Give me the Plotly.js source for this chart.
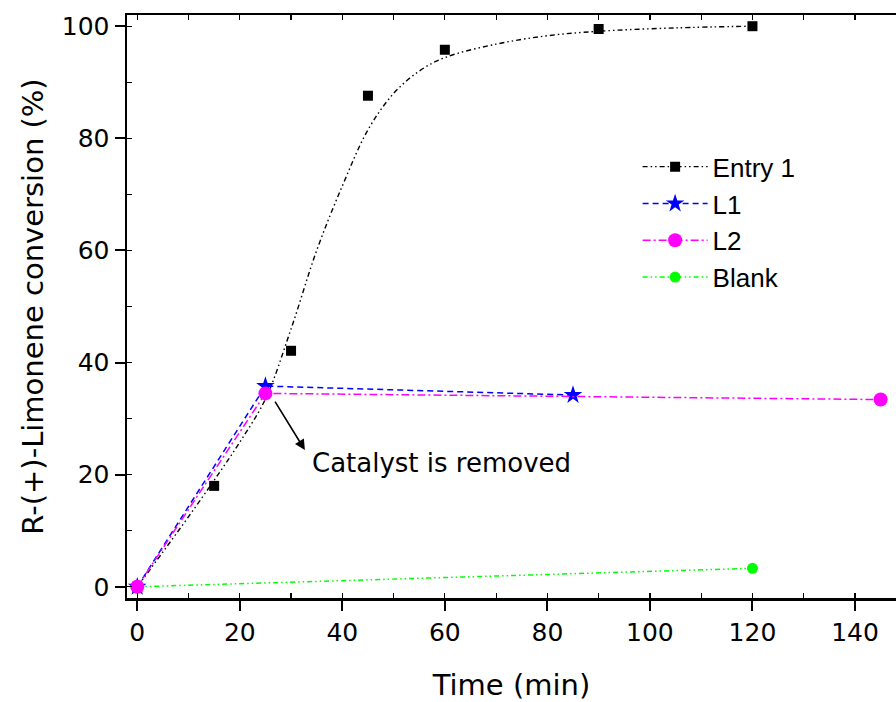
<!DOCTYPE html>
<html>
<head>
<meta charset="utf-8">
<script src="https://cdn.plot.ly/plotly-3.0.1.min.js"></script>
<style>
  html, body { margin: 0; padding: 0; background: #fff; }
  #chart { width: 896px; height: 702px; }
</style>
</head>
<body>
<div id="chart"></div>
<script>
// Measured conversion of R-(+)-limonene over time
const entry1Time = [0, 15, 30, 45, 60, 90, 120];
const entry1Conv = [0, 18.0, 42.1, 87.6, 95.8, 99.5, 100.0];

// Fitted trend through the Entry 1 points
const entry1FitTime = [0, 5, 10, 15, 20, 25, 30, 35, 40, 45, 50, 55, 60, 70, 80, 90, 105, 120];
const entry1FitConv = [0, 6.2, 12.5, 19.0, 25.8, 33.5, 46.0, 60.0, 71.5, 81.5, 88.0, 92.0, 94.4, 96.8, 98.3, 99.1, 99.7, 100.0];

const l1Time = [0, 25, 85];
const l1Conv = [0, 35.8, 34.2];

const l2Time = [0, 25, 145];
const l2Conv = [0, 34.5, 33.4];

const blankTime = [0, 120];
const blankConv = [0, 3.3];

const xTicks = [0, 20, 40, 60, 80, 100, 120, 140];
const yTicks = [0, 20, 40, 60, 80, 100];

const roundFamily = '"DejaVu Sans", Lato, sans-serif';
const tickFont = { family: roundFamily, size: 25, color: '#000' };
const titleFont = { family: roundFamily, size: 29, color: '#000' };

const dashDotDot = '5px,3px,1.5px,3px,1.5px,3px';

const traces = [
  {
    x: entry1FitTime, y: entry1FitConv, mode: 'lines',
    line: { color: '#000', width: 1.4, dash: dashDotDot, shape: 'spline', smoothing: 1 },
    showlegend: false, hoverinfo: 'skip'
  },
  {
    x: entry1Time, y: entry1Conv, name: 'Entry 1', mode: 'markers', showlegend: false,
    marker: { symbol: 'square', size: 10, color: '#000' }
  },
  {
    x: blankTime, y: blankConv, name: 'Blank', mode: 'lines+markers', legendrank: 4,
    line: { color: '#00ff00', width: 1.5, dash: dashDotDot },
    marker: { symbol: 'circle', size: 11, color: '#00ff00' }
  },
  {
    x: l1Time, y: l1Conv, name: 'L1', mode: 'lines+markers', legendrank: 2,
    line: { color: '#0000ff', width: 1.5, dash: '6px,4px' },
    marker: { symbol: 'star', size: 14, color: '#0000ff' }
  },
  {
    x: l2Time, y: l2Conv, name: 'L2', mode: 'lines+markers', legendrank: 3,
    line: { color: '#ff00ff', width: 1.5, dash: '8px,3px,2px,3px' },
    marker: { symbol: 'circle', size: 14, color: '#ff00ff' }
  },
  // legend entry for Entry 1: its line style together with the square marker
  {
    x: [null], y: [null], name: 'Entry 1', mode: 'lines+markers', legendrank: 1,
    line: { color: '#000', width: 1.4, dash: dashDotDot },
    marker: { symbol: 'square', size: 10, color: '#000' }
  },
  // empty trace on the top axis so the mirrored frame with its ticks is drawn
  { x: [null], y: [null], xaxis: 'x2', yaxis: 'y', showlegend: false, hoverinfo: 'skip' }
];

const layout = {
  width: 896, height: 702,
  margin: { l: 127, r: 0, t: 15, b: 104 },
  paper_bgcolor: '#fff', plot_bgcolor: '#fff',
  showlegend: true,
  legend: {
    x: 0.664, y: 0.78, xanchor: 'left', yanchor: 'top',
    bgcolor: 'rgba(0,0,0,0)', borderwidth: 0,
    font: { family: '"Liberation Sans", Arial, sans-serif', size: 26, color: '#000' },
    itemwidth: 65, tracegroupgap: 0
  },
  xaxis: {
    range: [-2, 148], tickvals: xTicks, ticks: 'outside', ticklen: 10, tickwidth: 2, tickcolor: '#000',
    showline: true, linewidth: 2.5, linecolor: '#000', showgrid: false, zeroline: false,
    tickfont: tickFont,
    minor: { dtick: 10, tick0: 0, ticks: 'inside', ticklen: 5, tickwidth: 1.2, tickcolor: '#000', showgrid: false },
    title: { text: 'Time (min)', font: titleFont, standoff: 29 }
  },
  xaxis2: {
    overlaying: 'x', matches: 'x', side: 'top', range: [-2, 148], showline: true, linewidth: 2.5, linecolor: '#000',
    tick0: 0, dtick: 10, ticks: 'inside', ticklen: 5, tickwidth: 1.2, tickcolor: '#000', showticklabels: false,
    showgrid: false, zeroline: false
  },
  yaxis: {
    range: [-2, 102], tickvals: yTicks, ticks: 'outside', ticklen: 10, tickwidth: 2, tickcolor: '#000',
    showline: true, linewidth: 2.5, linecolor: '#000', showgrid: false, zeroline: false,
    tickfont: tickFont,
    minor: { dtick: 10, tick0: 0, ticks: 'inside', ticklen: 5, tickwidth: 1.2, tickcolor: '#000', showgrid: false },
    title: { text: 'R-(+)-Limonene conversion (%)', font: titleFont, standoff: 10 }
  },
  annotations: [
    {
      x: 32.7, y: 24.4, ax: 26.7, ay: 33.3, xref: 'x', yref: 'y', axref: 'x', ayref: 'y',
      text: '', showarrow: true, arrowhead: 2, arrowsize: 1.3, arrowwidth: 1.6, arrowcolor: '#000'
    },
    {
      x: 33.6, y: 22.1, xref: 'x', yref: 'y', xanchor: 'left', yanchor: 'middle',
      text: 'Catalyst is removed', showarrow: false,
      font: { family: roundFamily, size: 26, color: '#000' }
    }
  ]
};

Plotly.newPlot('chart', traces, layout, { displayModeBar: false, staticPlot: true });
</script>
</body>
</html>
